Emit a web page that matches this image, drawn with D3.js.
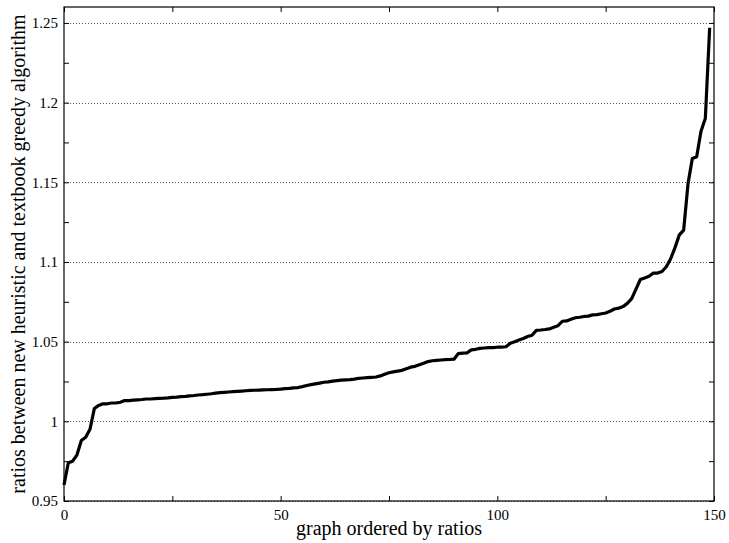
<!DOCTYPE html>
<html>
<head>
<meta charset="utf-8">
<script src="https://cdn.jsdelivr.net/npm/d3@7"></script>
<style>
  body { margin: 0; background: #fff; }
  svg text { font-family: "Liberation Serif", "Times New Roman", serif; fill: #000; }
</style>
</head>
<body>
<div id="chart"></div>
<script>
// ratios per graph, already sorted
const ratios = [
  0.960, 0.974, 0.975, 0.979, 0.988, 0.990, 0.995, 1.008, 1.010, 1.011,
  1.011, 1.0115, 1.0115, 1.012, 1.013, 1.013, 1.0133, 1.0135, 1.0137, 1.014,
  1.014, 1.0142, 1.0144, 1.0145, 1.0147, 1.015, 1.0152, 1.0155, 1.0157, 1.016,
  1.0162, 1.0165, 1.0167, 1.017, 1.0173, 1.0177, 1.018, 1.0182, 1.0184, 1.0186,
  1.0188, 1.019, 1.0192, 1.0194, 1.0195, 1.0196, 1.0197, 1.0198, 1.0199, 1.020,
  1.0202, 1.0205, 1.0207, 1.021, 1.0212, 1.0218, 1.0225, 1.023, 1.0235, 1.024,
  1.0245, 1.0248, 1.0252, 1.0255, 1.0258, 1.026, 1.0262, 1.0265, 1.027, 1.0272,
  1.0274, 1.0276, 1.0278, 1.0285, 1.0295, 1.0305, 1.031, 1.0315, 1.032, 1.033,
  1.034, 1.0345, 1.0355, 1.0365, 1.0375, 1.038, 1.0383, 1.0385, 1.0387, 1.0388,
  1.039, 1.0425, 1.0428, 1.043, 1.0448, 1.0452, 1.0458, 1.046, 1.0462, 1.0463,
  1.0465, 1.0466, 1.0468, 1.049, 1.050, 1.051, 1.052, 1.0532, 1.054, 1.0571,
  1.0573, 1.0576, 1.058, 1.059, 1.060, 1.0628, 1.063, 1.064, 1.065, 1.0653,
  1.0658, 1.066, 1.0668, 1.067, 1.0675, 1.068, 1.069, 1.0705, 1.071, 1.072,
  1.074, 1.077, 1.083, 1.089, 1.090, 1.091, 1.093, 1.093, 1.094, 1.097,
  1.102, 1.109, 1.117, 1.120, 1.149, 1.165, 1.166, 1.182, 1.190, 1.247
];
const xTicks = [0, 25, 50, 75, 100, 125, 150];
const xLabels = [0, 50, 100, 150];
const yTicks = [0.95, 0.975, 1, 1.025, 1.05, 1.075, 1.1, 1.125, 1.15, 1.175, 1.2, 1.225, 1.25];
const yLabels = [0.95, 1, 1.05, 1.1, 1.15, 1.2, 1.25];

const width = 729, height = 543;
const margin = { top: 7, right: 15, bottom: 42, left: 64 };
const w = width - margin.left - margin.right;
const h = height - margin.top - margin.bottom;

const svg = d3.select('#chart').append('svg')
  .attr('width', width)
  .attr('height', height);

const g = svg.append('g')
  .attr('transform', `translate(${margin.left},${margin.top})`);

const x = d3.scaleLinear().domain([0, 150]).range([0, w]);
const y = d3.scaleLinear().domain([0.95, 1.26]).range([h, 0]);

// dotted horizontal grid
g.append('g')
  .selectAll('line')
  .data(yLabels)
  .join('line')
  .attr('x1', 0)
  .attr('x2', w)
  .attr('y1', d => Math.round(y(d)) + 0.5)
  .attr('y2', d => Math.round(y(d)) + 0.5)
  .attr('stroke', '#555')
  .attr('stroke-width', 1)
  .attr('stroke-dasharray', '1,2');

// axes, ticks point inwards
const fmtX = d => xLabels.includes(d) ? d : '';
const fmtY = d => yLabels.some(v => Math.abs(v - d) < 1e-9) ? d3.format('')(+d.toFixed(3)) : '';

const axB = g.append('g').attr('transform', `translate(0,${h})`)
  .call(d3.axisBottom(x).tickValues(xTicks).tickSizeInner(-5).tickSizeOuter(0).tickPadding(8).tickFormat(fmtX));
const axT = g.append('g')
  .call(d3.axisTop(x).tickValues(xTicks).tickSizeInner(-5).tickSizeOuter(0).tickFormat(''));
const axL = g.append('g')
  .call(d3.axisLeft(y).tickValues(yTicks).tickSizeInner(-5).tickSizeOuter(0).tickPadding(6).tickFormat(fmtY));
const axR = g.append('g').attr('transform', `translate(${w},0)`)
  .call(d3.axisRight(y).tickValues(yTicks).tickSizeInner(-5).tickSizeOuter(0).tickFormat(''));

[axB, axT, axL, axR].forEach(a => {
  a.select('.domain').remove();
  a.selectAll('line').attr('stroke', '#000');
  a.selectAll('text').style('font-size', '15px').attr('fill', '#000');
});
axB.selectAll('text').attr('dy', '0.71em');

// frame
g.append('rect')
  .attr('width', w)
  .attr('height', h)
  .attr('fill', 'none')
  .attr('stroke', '#000')
  .attr('stroke-width', 1.2);

// the curve
const line = d3.line()
  .x((d, i) => x(i))
  .y(d => y(d));

g.append('path')
  .datum(ratios)
  .attr('d', line)
  .attr('fill', 'none')
  .attr('stroke', '#000')
  .attr('stroke-width', 3.2)
  .attr('stroke-linejoin', 'round');

// axis labels
svg.append('text')
  .attr('x', margin.left + w / 2)
  .attr('y', 535)
  .attr('text-anchor', 'middle')
  .style('font-size', '20px')
  .text('graph ordered by ratios');

svg.append('text')
  .attr('transform', `translate(25,${margin.top + h / 2}) rotate(-90)`)
  .attr('text-anchor', 'middle')
  .style('font-size', '20px')
  .text('ratios between new heuristic and textbook greedy algorithm');
</script>
</body>
</html>
